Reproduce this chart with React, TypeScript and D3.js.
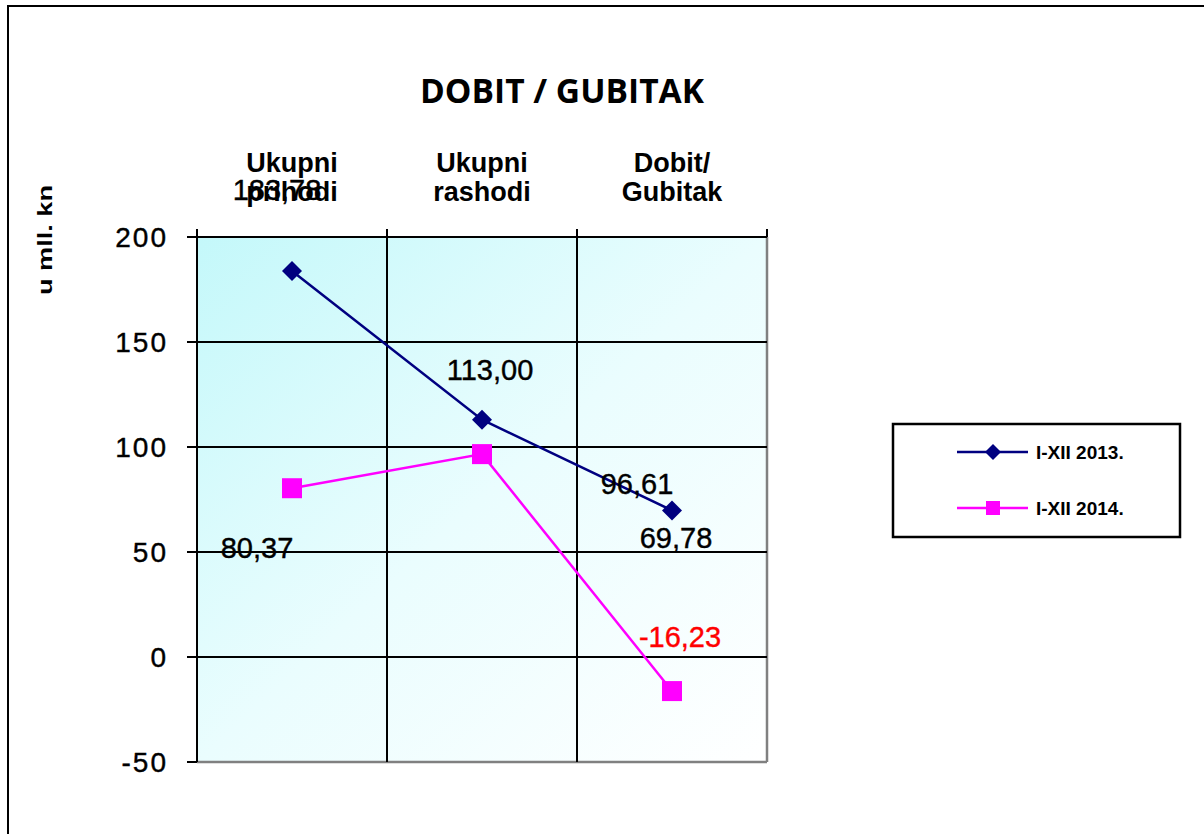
import React from "react";
import * as d3 from "d3";

const categories = [
  ["Ukupni", "prihodi"],
  ["Ukupni", "rashodi"],
  ["Dobit/", "Gubitak"],
];
const series2013 = [183.78, 113.0, 69.78];
const series2014 = [80.37, 96.61, -16.23];
const seriesNames = ["I-XII 2013.", "I-XII 2014."];
const yTicks = [-50, 0, 50, 100, 150, 200];

// where the data labels sit relative to their point (as in the original)
const labelShift2013 = [[-15, -71], [8, -40], [4, 38]];
const labelShift2014 = [[-35, 70], [155, 40], [8, -44]];

const W = 1204;
const H = 834;
const plot = { left: 197, right: 767, top: 237, bottom: 762 };

const fmt = (v: number) =>
  d3.format(".2f")(v).replace(".", ",").replace("\u2212", "-");

const App = () => {
  const x = d3
    .scaleBand()
    .domain(categories.map((d, i) => String(i)))
    .range([plot.left, plot.right]);
  const y = d3.scaleLinear().domain([-50, 200]).range([plot.bottom, plot.top]);
  const cx = (i: number) => (x(String(i)) as number) + x.bandwidth() / 2;

  const line = d3
    .line<number>()
    .x((d, i) => cx(i))
    .y((d) => y(d));

  const diamond = (px: number, py: number, r: number) =>
    `M${px},${py - r}L${px + r},${py}L${px},${py + r}L${px - r},${py}Z`;

  const font = "Liberation Sans, Arial, sans-serif";

  return (
    <svg
      width={W}
      height={H}
      style={{ position: "absolute", left: 0, top: 0, background: "#fff" }}
    >
      <defs>
        <linearGradient id="bg" x1="0" y1="0" x2="1" y2="1">
          <stop offset="0" stopColor="#c4f8fa" />
          <stop offset="0.5" stopColor="#eafdfe" />
          <stop offset="1" stopColor="#ffffff" />
        </linearGradient>
      </defs>

      {/* outer frame */}
      <rect x={8} y={6} width={W + 20} height={H + 20} fill="none" stroke="#000" strokeWidth={2} />

      <text
        x={562}
        y={103}
        textAnchor="middle"
        fontFamily="Open Sans, sans-serif"
        fontWeight="bold"
        fontSize={34}
        textLength={284}
        lengthAdjust="spacingAndGlyphs"
      >
        DOBIT / GUBITAK
      </text>

      <text
        transform="translate(52,240) rotate(-90)"
        textAnchor="middle"
        fontFamily={font}
        fontWeight="bold"
        fontSize={21}
        textLength={110}
        lengthAdjust="spacingAndGlyphs"
      >
        u mll. kn
      </text>

      <rect
        x={plot.left}
        y={plot.top}
        width={plot.right - plot.left}
        height={plot.bottom - plot.top}
        fill="url(#bg)"
      />

      {/* plot border right / bottom */}
      <line x1={plot.right} x2={plot.right} y1={plot.top} y2={plot.bottom} stroke="#808080" strokeWidth={2.5} />
      <line x1={plot.left} x2={plot.right} y1={plot.bottom} y2={plot.bottom} stroke="#808080" strokeWidth={2.5} />

      {/* horizontal grid + y ticks */}
      {yTicks.map((t) => (
        <g key={t}>
          {t !== -50 && (
            <line x1={plot.left} x2={plot.right} y1={y(t)} y2={y(t)} stroke="#000" strokeWidth={2} />
          )}
          <line x1={plot.left - 10} x2={plot.left} y1={y(t)} y2={y(t)} stroke="#000" strokeWidth={2} />
          <text
            x={168}
            y={y(t) + 10}
            textAnchor="end"
            fontFamily={font}
            fontSize={28}
            letterSpacing={2}
            stroke="#000"
            strokeWidth={0.4}
          >
            {t}
          </text>
        </g>
      ))}

      {/* vertical grid + category ticks at top */}
      {d3.range(categories.length + 1).map((i) => {
        const gx = plot.left + i * x.bandwidth();
        return (
          <g key={i}>
            {i > 0 && i < categories.length && (
              <line x1={gx} x2={gx} y1={plot.top} y2={plot.bottom} stroke="#000" strokeWidth={2} />
            )}
            <line x1={gx} x2={gx} y1={plot.top - 8} y2={plot.top} stroke="#000" strokeWidth={2} />
          </g>
        );
      })}
      <line x1={plot.left} x2={plot.left} y1={plot.top} y2={plot.bottom} stroke="#000" strokeWidth={2} />

      {categories.map((c, i) => (
        <text
          key={i}
          x={cx(i)}
          textAnchor="middle"
          fontFamily={font}
          fontWeight="bold"
          fontSize={27}
        >
          <tspan x={cx(i)} y={172}>
            {c[0]}
          </tspan>
          <tspan x={cx(i)} y={201}>
            {c[1]}
          </tspan>
        </text>
      ))}

      {/* series */}
      <path d={line(series2013) || ""} fill="none" stroke="#000080" strokeWidth={2.5} />
      <path d={line(series2014) || ""} fill="none" stroke="#ff00ff" strokeWidth={2.5} />
      {series2013.map((v, i) => (
        <path key={i} d={diamond(cx(i), y(v), 10)} fill="#000080" />
      ))}
      {series2014.map((v, i) => (
        <rect key={i} x={cx(i) - 10} y={y(v) - 10} width={20} height={20} fill="#ff00ff" />
      ))}

      {/* data labels */}
      {series2013.map((v, i) => (
        <text
          key={i}
          x={cx(i) + labelShift2013[i][0]}
          y={y(v) + labelShift2013[i][1]}
          textAnchor="middle"
          fontFamily={font}
          fontSize={29}
          fill="#000"
          stroke="#000"
          strokeWidth={0.4}
        >
          {fmt(v)}
        </text>
      ))}
      {series2014.map((v, i) => {
        const col = v < 0 ? "#ff0000" : "#000";
        return (
          <text
            key={i}
            x={cx(i) + labelShift2014[i][0]}
            y={y(v) + labelShift2014[i][1]}
            textAnchor="middle"
            fontFamily={font}
            fontSize={29}
            fill={col}
            stroke={col}
            strokeWidth={0.4}
          >
            {fmt(v)}
          </text>
        );
      })}

      {/* legend */}
      <rect x={893} y={424} width={287} height={113} fill="#fff" stroke="#000" strokeWidth={2.5} />
      {seriesNames.map((n, i) => {
        const ly = 452 + i * 56;
        const col = i === 0 ? "#000080" : "#ff00ff";
        return (
          <g key={n}>
            <line x1={957} x2={1028} y1={ly} y2={ly} stroke={col} strokeWidth={2.5} />
            {i === 0 ? (
              <path d={diamond(993, ly, 8)} fill={col} />
            ) : (
              <rect x={986} y={ly - 7} width={14} height={14} fill={col} />
            )}
            <text x={1036} y={ly + 7} fontFamily={font} fontWeight="bold" fontSize={19}>
              {n}
            </text>
          </g>
        );
      })}
    </svg>
  );
};

export default App;
